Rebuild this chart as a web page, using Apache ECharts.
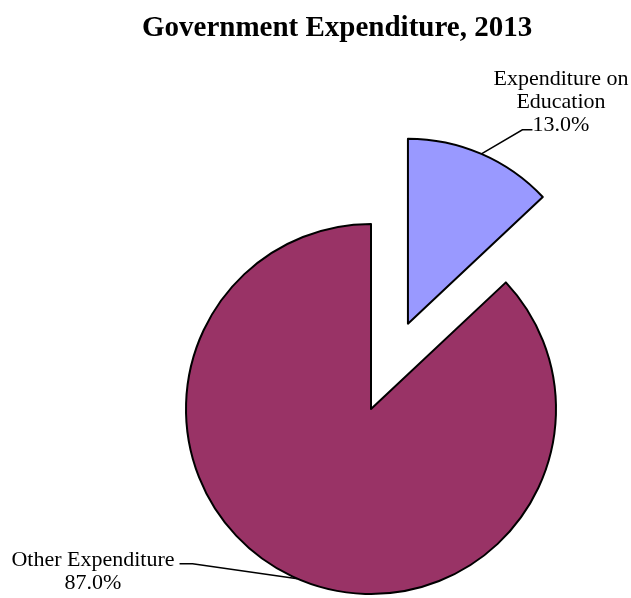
<!DOCTYPE html>
<html>
<head>
<meta charset="utf-8">
<script src="https://cdn.jsdelivr.net/npm/echarts@6/dist/echarts.min.js"></script>
<style>html,body{margin:0;padding:0;background:#fff;}#c{width:631px;height:598px;}</style>
</head>
<body>
<div id="c"></div>
<script>
var categories = ['Expenditure on\nEducation', 'Other Expenditure'];
var values = [13.0, 87.0];
var colors = ['#9999FF', '#993366'];
var titleText = 'Government Expenditure, 2013';

var CX = 371, CY = 409, R = 185, OFF = 93;
var explodedIndex = 0;
var total = values.reduce(function(a,b){return a+b;},0);

function midAngle(i){
  var start = 0;
  for (var k=0;k<i;k++) start += values[k];
  return (start + values[i]/2) / total * 2 * Math.PI;
}
function centerFor(i){
  if (i !== explodedIndex) return [CX, CY];
  var a = midAngle(i);
  return [CX + OFF*Math.sin(a), CY - OFF*Math.cos(a)];
}
function edgePoint(i){
  var c = centerFor(i), a = midAngle(i);
  return [c[0] + R*Math.sin(a), c[1] - R*Math.cos(a)];
}

var labelFont = {fontFamily: 'Liberation Serif', fontSize: 22, color: '#000', lineHeight: 23, align: 'center', overflow: 'none'};

function makeSeries(onlyIndex){
  return {
    type: 'pie',
    center: centerFor(onlyIndex),
    radius: R,
    startAngle: 90,
    clockwise: true,
    silent: true,
    emphasis: {disabled: true},
    label: Object.assign({show: true,
      formatter: function(p){ return p.name + '\n' + p.value.toFixed(1) + '%'; }}, labelFont),
    labelLine: {show: true, lineStyle: {color: '#000', width: 1.5}},
    labelLayout: function(p){
      var e = edgePoint(p.dataIndex);
      if (p.dataIndex === 0) {
        return {
          x: 561, y: 68, align: 'center', verticalAlign: 'top',
          labelLinePoints: [e, [e[0]+41, e[1]-24], [e[0]+51, e[1]-24]]
        };
      }
      return {
        x: 93, y: 549, align: 'center', verticalAlign: 'top',
        labelLinePoints: [e, [e[0]-105, e[1]-15], [e[0]-118, e[1]-15]]
      };
    },
    data: categories.map(function(n,i){
      var vis = i === onlyIndex;
      return {
        name: n, value: values[i],
        itemStyle: vis ? {color: colors[i], borderColor: '#000', borderWidth: 2}
                       : {color: 'rgba(0,0,0,0)', borderWidth: 0},
        label: {show: vis},
        labelLine: {show: vis}
      };
    })
  };
}

var chart = echarts.init(document.getElementById('c'), null, {renderer:'canvas'});
chart.setOption({
  animation: false,
  backgroundColor: '#ffffff',
  title: {
    text: titleText, left: 137, top: 9,
    textStyle: {fontFamily: 'Liberation Serif', fontWeight: 'bold', fontSize: 29, color: '#000'}
  },
  series: [makeSeries(1), makeSeries(0)]
});
</script>
</body>
</html>
